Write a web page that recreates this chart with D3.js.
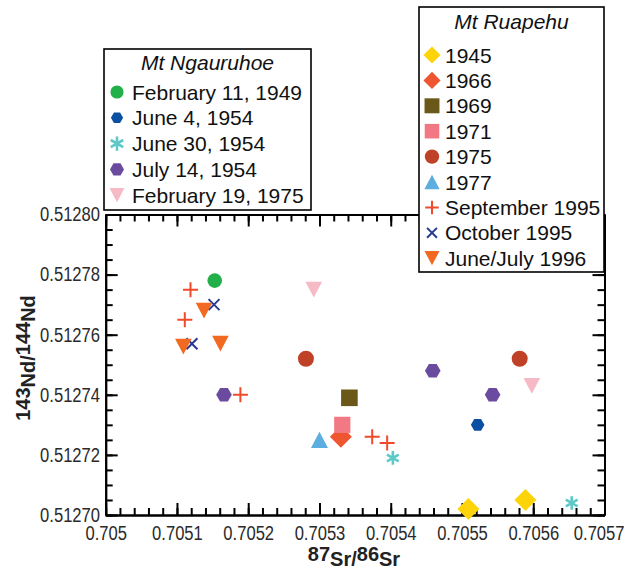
<!DOCTYPE html>
<html><head><meta charset="utf-8">
<script src="https://cdn.jsdelivr.net/npm/d3@7"></script>
<style>
html,body{margin:0;padding:0;background:#fff;}
svg{display:block;}
</style>
</head><body>
<svg id="c" width="626" height="571"></svg>
<script>
// ---------- data ----------
const xTickValues = [0.705, 0.7051, 0.7052, 0.7053, 0.7054, 0.7055, 0.7056, 0.7057];
const xTickLabels = ["0.705", "0.7051", "0.7052", "0.7053", "0.7054", "0.7055", "0.7056", "0.7057"];
const yTickValues = [0.5127, 0.51272, 0.51274, 0.51276, 0.51278, 0.5128];
const yTickLabels = ["0.51270", "0.51272", "0.51274", "0.51276", "0.51278", "0.51280"];

// Mt Ngauruhoe
const ngNames = ["February 11, 1949", "June 4, 1954", "June 30, 1954", "July 14, 1954", "February 19, 1975"];
const ngX = [[0.705153], [0.705522], [0.705403, 0.705654], [0.705166, 0.705459, 0.705543], [0.705292, 0.705598]];
const ngY = [[0.512778], [0.512730], [0.512719, 0.512704], [0.512740, 0.512748, 0.512740], [0.512775, 0.512743]];

// Mt Ruapehu
const ruNames = ["1945", "1966", "1969", "1971", "1975", "1977", "September 1995", "October 1995", "June/July 1996"];
const ruX = [[0.705509, 0.705589], [0.705330], [0.705342], [0.705332], [0.705281, 0.705581], [0.705300],
             [0.705119, 0.705111, 0.705189, 0.705374, 0.705395], [0.705152, 0.705121], [0.705138, 0.705109, 0.705161]];
const ruY = [[0.512702, 0.512705], [0.512726], [0.512739], [0.512730], [0.512752, 0.512752], [0.512725],
             [0.512775, 0.512765, 0.512740, 0.512726, 0.512724], [0.512770, 0.512757], [0.512768, 0.512756, 0.512757]];

// ---------- styles ----------
const ngStyle = [
  {shape: "circle", color: "#22b04b", r: 7.3},
  {shape: "hexagon", color: "#0b4fa3", r: 6.8},
  {shape: "asterisk", color: "#5ec9c7", r: 6.8},
  {shape: "hexagon", color: "#6a4b9f", r: 7.8},
  {shape: "triDown", color: "#f6b9c6", r: 8.3}
];
const ruStyle = [
  {shape: "diamond", color: "#fdd30a", r: 11},
  {shape: "diamond", color: "#ef5530", r: 11},
  {shape: "square", color: "#6a5819", r: 8.3},
  {shape: "square", color: "#f27983", r: 8.1},
  {shape: "circle", color: "#bf4228", r: 8},
  {shape: "triUp", color: "#5cade0", r: 8.5},
  {shape: "plus", color: "#f04a2a", r: 7.5},
  {shape: "cross", color: "#263b90", r: 5.5},
  {shape: "triDown", color: "#f26a21", r: 8.3}
];

const svg = d3.select("#c");
const x = d3.scaleLinear().domain([0.705, 0.7057]).range([105.7, 604.5]);
const y = d3.scaleLinear().domain([0.5127, 0.5128]).range([515, 214.5]);

const mainFont = "'Liberation Sans', Arial, Helvetica, sans-serif";
const squeeze = 0.79;

function drawMarker(g, st, cx, cy, scale) {
  const r = st.r * (scale || 1);
  const c = st.color;
  switch (st.shape) {
    case "circle":
      g.append("circle").attr("cx", cx).attr("cy", cy).attr("r", r).attr("fill", c); break;
    case "hexagon": {
      const pts = d3.range(6).map(i => [cx + r * Math.cos(i * Math.PI / 3), cy + r * Math.sin(i * Math.PI / 3)]);
      g.append("polygon").attr("points", pts.map(p => p.join(",")).join(" ")).attr("fill", c); break; }
    case "diamond":
      g.append("polygon").attr("points", [[cx, cy - r], [cx + r, cy], [cx, cy + r], [cx - r, cy]].map(p => p.join(",")).join(" ")).attr("fill", c); break;
    case "square":
      g.append("rect").attr("x", cx - r).attr("y", cy - r).attr("width", 2 * r).attr("height", 2 * r).attr("fill", c); break;
    case "triDown":
      g.append("polygon").attr("points", [[cx - r, cy - r * 0.95], [cx + r, cy - r * 0.95], [cx, cy + r * 0.95]].map(p => p.join(",")).join(" ")).attr("fill", c); break;
    case "triUp":
      g.append("polygon").attr("points", [[cx - r, cy + r * 0.95], [cx + r, cy + r * 0.95], [cx, cy - r * 0.95]].map(p => p.join(",")).join(" ")).attr("fill", c); break;
    case "plus":
      g.append("path").attr("d", `M${cx - r},${cy}H${cx + r}M${cx},${cy - r}V${cy + r}`).attr("stroke", c).attr("stroke-width", 2).attr("fill", "none"); break;
    case "cross":
      g.append("path").attr("d", `M${cx - r},${cy - r}L${cx + r},${cy + r}M${cx + r},${cy - r}L${cx - r},${cy + r}`).attr("stroke", c).attr("stroke-width", 2).attr("fill", "none"); break;
    case "asterisk": {
      let d = "";
      [90, 30, 150].forEach(a => {
        const t = a * Math.PI / 180, dx = r * Math.cos(t), dy = r * Math.sin(t);
        d += `M${cx - dx},${cy - dy}L${cx + dx},${cy + dy}`;
      });
      g.append("path").attr("d", d).attr("stroke", c).attr("stroke-width", 2.6).attr("fill", "none"); break; }
  }
}

// ---------- axes ----------
const xMinor = d3.range(0, 36).map(i => 0.705 + i * 0.00002);
const yMinor = d3.range(0, 21).map(i => 0.5127 + i * 0.000005);

function styleAxis(g) {
  g.selectAll("path.domain").attr("stroke", "#000").attr("stroke-width", 2);
  g.selectAll(".tick line").attr("stroke", "#000").attr("stroke-width", 2);
}

const axG = svg.append("g");
// minor ticks
axG.append("g").attr("transform", `translate(0,${y.range()[0]})`)
  .call(d3.axisBottom(x).tickValues(xMinor).tickSize(-7).tickSizeOuter(0).tickFormat(""))
  .call(styleAxis);
axG.append("g").attr("transform", `translate(0,${y.range()[1]})`)
  .call(d3.axisTop(x).tickValues(xMinor).tickSize(-7).tickSizeOuter(0).tickFormat(""))
  .call(styleAxis);
axG.append("g").attr("transform", `translate(${x.range()[0]},0)`)
  .call(d3.axisLeft(y).tickValues(yMinor).tickSize(-7).tickSizeOuter(0).tickFormat(""))
  .call(styleAxis);
axG.append("g").attr("transform", `translate(${x.range()[1]},0)`)
  .call(d3.axisRight(y).tickValues(yMinor).tickSize(-7).tickSizeOuter(0).tickFormat(""))
  .call(styleAxis);
// major ticks
const xb = axG.append("g").attr("transform", `translate(0,${y.range()[0]})`)
  .call(d3.axisBottom(x).tickValues(xTickValues).tickSize(-12).tickSizeOuter(0).tickPadding(10)
    .tickFormat((d, i) => xTickLabels[i]))
  .call(styleAxis);
axG.append("g").attr("transform", `translate(0,${y.range()[1]})`)
  .call(d3.axisTop(x).tickValues(xTickValues).tickSize(-12).tickSizeOuter(0).tickFormat(""))
  .call(styleAxis);
const yl = axG.append("g").attr("transform", `translate(${x.range()[0]},0)`)
  .call(d3.axisLeft(y).tickValues(yTickValues).tickSize(-12).tickSizeOuter(0).tickPadding(6)
    .tickFormat((d, i) => yTickLabels[i]))
  .call(styleAxis);
axG.append("g").attr("transform", `translate(${x.range()[1]},0)`)
  .call(d3.axisRight(y).tickValues(yTickValues).tickSize(-12).tickSizeOuter(0).tickFormat(""))
  .call(styleAxis);

[xb, yl].forEach(g => g.selectAll("text")
  .attr("font-family", mainFont).attr("font-size", 21).attr("fill", "#2a2a2a")
  .attr("transform", `scale(${squeeze},1)`));
yl.selectAll("text").attr("dy", "0.3em").attr("x", -5.7 / squeeze);
// last x label kept inside the frame
xb.selectAll("text").filter((d, i) => i === xTickValues.length - 1)
  .attr("text-anchor", "end").attr("x", (624 - x(0.7057)) / squeeze);

// axis titles
const xt = svg.append("text").attr("x", 354).attr("y", 566).attr("text-anchor", "middle")
  .attr("font-family", mainFont).attr("font-weight", "bold").attr("font-size", 20).attr("fill", "#222");
xt.append("tspan").attr("dy", -5).text("87");
xt.append("tspan").attr("dy", 5).text("Sr/");
xt.append("tspan").attr("dy", -5).text("86");
xt.append("tspan").attr("dy", 5).text("Sr");

const yt = svg.append("text").attr("transform", "translate(35,358) rotate(-90)").attr("text-anchor", "middle")
  .attr("font-family", mainFont).attr("font-weight", "bold").attr("font-size", 20).attr("fill", "#222");
yt.append("tspan").attr("dy", -5).text("143");
yt.append("tspan").attr("dy", 5).text("Nd/");
yt.append("tspan").attr("dy", -5).text("144");
yt.append("tspan").attr("dy", 5).text("Nd");

// ---------- points ----------
const ptG = svg.append("g");
ngStyle.forEach((st, i) => ngX[i].forEach((xv, j) => drawMarker(ptG, st, x(xv), y(ngY[i][j]))));
ruStyle.forEach((st, i) => ruX[i].forEach((xv, j) => drawMarker(ptG, st, x(xv), y(ruY[i][j]))));

// ---------- legends ----------
function legend(box, title, names, styles, rowY0, rowStep, mx, tx) {
  const g = svg.append("g");
  g.append("rect").attr("x", box[0]).attr("y", box[1]).attr("width", box[2]).attr("height", box[3])
    .attr("fill", "#fff").attr("stroke", "#000").attr("stroke-width", 1.6);
  g.append("text").attr("x", box[0] + box[2] / 2).attr("y", box[1] + title[1])
    .attr("text-anchor", "middle").attr("font-family", mainFont).attr("font-style", "italic")
    .attr("font-size", 21).attr("fill", "#111").text(title[0]);
  names.forEach((n, i) => {
    const cy = rowY0 + i * rowStep;
    const st = Object.assign({}, styles[i]);
    if (st.shape === "diamond") st.r = 9.5;
    if (st.shape === "asterisk") st.r = 8;
    drawMarker(g, st, mx, cy, 0.9);
    g.append("text").attr("x", tx).attr("y", cy).attr("dy", "0.36em")
      .attr("font-family", mainFont).attr("font-size", 21).attr("fill", "#111").text(n);
  });
}
legend([104, 49, 207, 161], ["Mt Ngauruhoe", 21], ngNames, ngStyle, 92, 25.8, 117, 132);
legend([419, 7, 185, 265], ["Mt Ruapehu", 22], ruNames, ruStyle, 55, 25.4, 432, 445);
</script>
</body></html>
